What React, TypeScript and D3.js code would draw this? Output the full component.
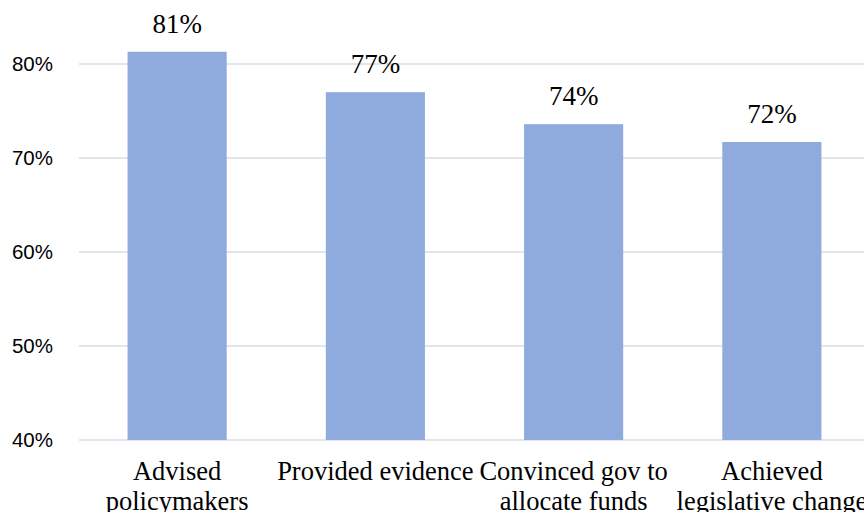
import React from "react";
import * as d3 from "d3";

// Share of respondents reporting each kind of policy influence
const categories: string[][] = [
  ["Advised", "policymakers"],
  ["Provided evidence"],
  ["Convinced gov to", "allocate funds"],
  ["Achieved", "legislative change"],
];
const values: number[] = [0.813, 0.77, 0.736, 0.717];
const yTicks: number[] = [0.4, 0.5, 0.6, 0.7, 0.8];

const WIDTH = 864;
const HEIGHT = 512;
const SERIF = "'Liberation Serif', 'Times New Roman', Times, serif";
const SANS = "'Liberation Sans', Arial, Helvetica, sans-serif";

export default function App() {
  const keys = categories.map((c) => c.join(" "));
  const x = d3
    .scaleBand<string>()
    .domain(keys)
    .range([78, 871])
    .paddingInner(0.5)
    .paddingOuter(0.25);
  const y = d3.scaleLinear().domain([0.4, 0.8]).range([440, 64]);
  const pct = d3.format(".0%");

  return (
    <svg
      width={WIDTH}
      height={HEIGHT}
      style={{ position: "absolute", left: 0, top: 0, display: "block", background: "#fff" }}
    >
      {/* horizontal gridlines and y tick labels */}
      {yTicks.map((t) => (
        <g key={t}>
          <line
            x1={79}
            x2={WIDTH}
            y1={y(t)}
            y2={y(t)}
            stroke="#d9dde6"
            strokeWidth={1.5}
          />
          <text
            x={53}
            y={y(t)}
            dy="0.36em"
            textAnchor="end"
            style={{ fontFamily: SANS, fontSize: 20.5 }}
            fill="#000"
          >
            {pct(t)}
          </text>
        </g>
      ))}

      {/* bars */}
      {values.map((v, i) => (
        <rect
          key={keys[i]}
          x={x(keys[i])!}
          y={y(v)}
          width={x.bandwidth()}
          height={y(0.4) - y(v)}
          fill="#8faadc"
        />
      ))}

      {/* value labels */}
      {values.map((v, i) => (
        <text
          key={"v" + i}
          x={x(keys[i])! + x.bandwidth() / 2}
          y={y(v) - 19}
          textAnchor="middle"
          style={{ fontFamily: SERIF, fontSize: 27 }}
          fill="#000"
        >
          {pct(v)}
        </text>
      ))}

      {/* category labels */}
      {categories.map((lines, i) => (
        <text
          key={"c" + i}
          x={x(keys[i])! + x.bandwidth() / 2}
          y={480}
          textAnchor="middle"
          style={{ fontFamily: SERIF, fontSize: 26.5 }}
          fill="#000"
        >
          {lines.map((ln, j) => (
            <tspan key={j} x={x(keys[i])! + x.bandwidth() / 2} dy={j === 0 ? 0 : 30}>
              {ln}
            </tspan>
          ))}
        </text>
      ))}
    </svg>
  );
}
